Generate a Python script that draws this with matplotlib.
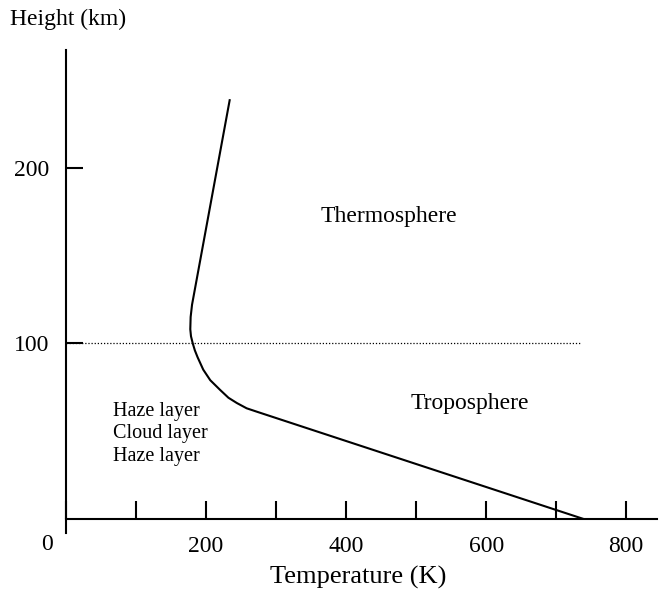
import matplotlib
matplotlib.use("Agg")
from matplotlib import pyplot as plt

plt.rcParams['font.family'] = ['Liberation Serif', 'DejaVu Serif']

# temperature profile
temp = [234, 180, 178, 177.5, 178.5, 181, 184, 188, 196, 206, 220, 232, 244, 258, 273, 739]
height = [239, 122, 115, 108, 104, 100, 96, 92, 85, 79, 73.5, 69, 66, 63, 61, 0]

# dotted boundary at 100 km
boundary_h = 100
boundary_t = [0, 734]

x_ticks = [0, 100, 200, 300, 400, 500, 600, 700, 800]
x_labels = ["", "", "200", "", "400", "", "600", "", "800"]
y_ticks = [100, 200]
y_labels = ["100", "200"]

fig = plt.figure(figsize=(6.59, 5.89), dpi=100)
ax = fig.add_axes([66/659, 56/589, 591/659, 483/589])

ax.plot(temp, height, color="black", lw=1.5, solid_capstyle="butt")
ax.plot(boundary_t, [boundary_h, boundary_h], color="black", lw=0.9,
        linestyle=(0, (1, 1.5)))

ax.set_xlim(0, 844)
ax.set_ylim(-8, 267)

ax.spines['top'].set_visible(False)
ax.spines['right'].set_visible(False)
ax.spines['bottom'].set_position(('data', 0))
for s in ['left', 'bottom']:
    ax.spines[s].set_linewidth(1.5)

ax.set_xticks(x_ticks)
ax.set_xticklabels(x_labels)
ax.set_yticks(y_ticks)
ax.set_yticklabels(y_labels)
ax.tick_params(axis='x', direction='in', length=13, width=1.5, pad=12, labelsize=17)
ax.tick_params(axis='y', direction='in', length=12, width=1.5, pad=12, labelsize=17)

ax.text(-27, -14.8, "0", ha="center", va="center", fontsize=17)

ax.text(461, 172, "Thermosphere", ha="center", va="center", fontsize=17)
ax.text(577, 66, "Troposphere", ha="center", va="center", fontsize=17)
ax.text(67, 48.5, "Haze layer\nCloud layer\nHaze layer", ha="left", va="center",
        fontsize=14.5, linespacing=1.25)

fig.text(10/659, 1 - 19/589, "Height (km)", ha="left", va="center", fontsize=17)
fig.text(358/659, 12/589, "Temperature (K)", ha="center", va="center", fontsize=19)

fig.savefig("out.png", dpi=100)
